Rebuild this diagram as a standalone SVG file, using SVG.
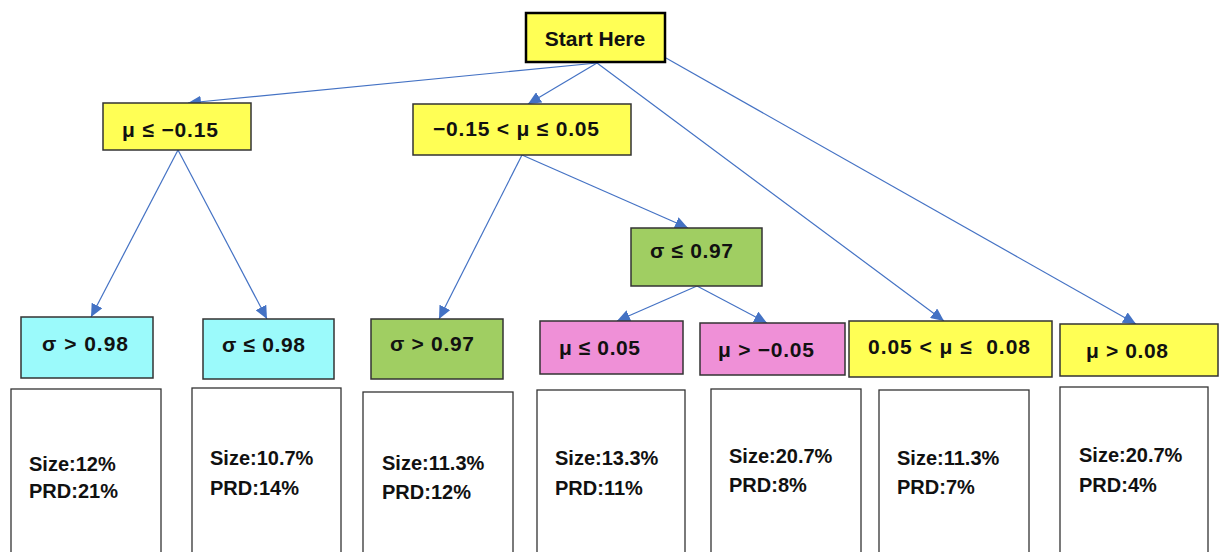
<svg xmlns="http://www.w3.org/2000/svg" width="1224" height="552" viewBox="0 0 1224 552">
<defs>
<marker id="arr" markerUnits="userSpaceOnUse" markerWidth="13" markerHeight="12" refX="13" refY="6" orient="auto">
<path d="M0,0 L13,6 L0,12 z" fill="#4472C4"/>
</marker>
<style>
.n{stroke:#333;stroke-width:1.5}
.y{fill:#FFFF55}
.c{fill:#9BFAFB}
.g{fill:#A0CE62}
.p{fill:#EF90D7}
.w{fill:#fff;stroke:#333;stroke-width:1.3}
.t{font-family:"Liberation Sans",Arial,sans-serif;font-weight:bold;font-size:21px;fill:#111;dominant-baseline:central}
.b{font-size:20px}
.e line{stroke:#4472C4;stroke-width:1.2;marker-end:url(#arr)}
</style>
</defs>
<rect width="1224" height="552" fill="#fff"/>
<g id="connectors" class="e">
<line x1="597" y1="63" x2="188" y2="103"/>
<line x1="597" y1="63" x2="528" y2="104"/>
<line x1="597" y1="63" x2="944" y2="321"/>
<line x1="666" y1="58" x2="1136" y2="324"/>
<line x1="178" y1="150" x2="91" y2="317"/>
<line x1="178" y1="150" x2="267" y2="319"/>
<line x1="522" y1="155" x2="439" y2="319"/>
<line x1="522" y1="155" x2="688" y2="228"/>
<line x1="697" y1="286" x2="617" y2="321"/>
<line x1="697" y1="286" x2="767" y2="323"/>
</g>
<g id="start"><rect x="526" y="13" width="139" height="49" class="y" stroke="#000" stroke-width="2.5"/><text class="t" x="595" y="38" text-anchor="middle" font-size="22">Start Here</text></g>
<g id="mu1"><rect x="103" y="103" width="148" height="47" class="n y"/><text class="t" x="122" y="129" textLength="96">μ ≤ −0.15</text></g>
<g id="mu2"><rect x="413" y="104" width="218" height="51" class="n y"/><text class="t" x="433" y="128" textLength="166">−0.15 &lt; μ ≤ 0.05</text></g>
<g id="s1"><rect x="21" y="317" width="132" height="61" class="n c"/><text class="t" x="42" y="343" textLength="86">σ &gt; 0.98</text></g>
<g id="s2"><rect x="203" y="319" width="131" height="60" class="n c"/><text class="t" x="222" y="344" textLength="83">σ ≤ 0.98</text></g>
<g id="s3"><rect x="371" y="319" width="132" height="60" class="n g"/><text class="t" x="390" y="343" textLength="84">σ &gt; 0.97</text></g>
<g id="s4"><rect x="631" y="228" width="131" height="58" class="n g"/><text class="t" x="650" y="250" textLength="83">σ ≤ 0.97</text></g>
<g id="m3"><rect x="540" y="321" width="143" height="53" class="n p"/><text class="t" x="559" y="347" textLength="81">μ ≤ 0.05</text></g>
<g id="m4"><rect x="700" y="323" width="145" height="52" class="n p"/><text class="t" x="718" y="349" textLength="96">μ &gt; −0.05</text></g>
<g id="m5"><rect x="849" y="321" width="203" height="56" class="n y"/><text class="t" x="868" y="346" textLength="162" xml:space="preserve">0.05 &lt; μ ≤  0.08</text></g>
<g id="m6"><rect x="1060" y="324" width="158" height="52" class="n y"/><text class="t" x="1086" y="350" textLength="82">μ &gt; 0.08</text></g>
<g id="r1"><rect x="11" y="389" width="150" height="175" class="w"/><text class="t b" x="29" y="464">Size:12%</text><text class="t b" x="29" y="491">PRD:21%</text></g>
<g id="r2"><rect x="192" y="388" width="149" height="176" class="w"/><text class="t b" x="210" y="458">Size:10.7%</text><text class="t b" x="210" y="488">PRD:14%</text></g>
<g id="r3"><rect x="363" y="392" width="150" height="172" class="w"/><text class="t b" x="382" y="463">Size:11.3%</text><text class="t b" x="382" y="492">PRD:12%</text></g>
<g id="r4"><rect x="537" y="390" width="148" height="174" class="w"/><text class="t b" x="555" y="458">Size:13.3%</text><text class="t b" x="555" y="488">PRD:11%</text></g>
<g id="r5"><rect x="711" y="389" width="150" height="175" class="w"/><text class="t b" x="729" y="456">Size:20.7%</text><text class="t b" x="729" y="485">PRD:8%</text></g>
<g id="r6"><rect x="879" y="390" width="150" height="174" class="w"/><text class="t b" x="897" y="458">Size:11.3%</text><text class="t b" x="897" y="487">PRD:7%</text></g>
<g id="r7"><rect x="1060" y="387" width="148" height="177" class="w"/><text class="t b" x="1079" y="455">Size:20.7%</text><text class="t b" x="1079" y="485">PRD:4%</text></g>
</svg>
